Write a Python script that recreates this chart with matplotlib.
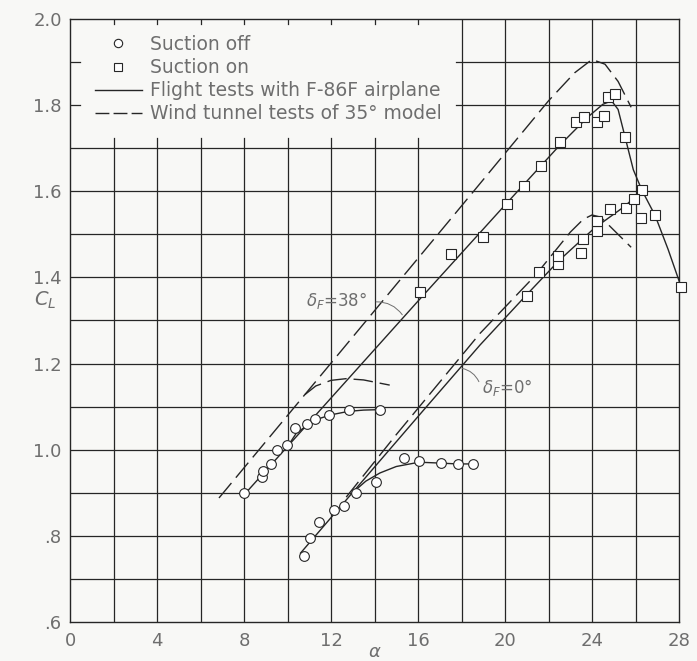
import matplotlib.pyplot as plt
from matplotlib.lines import Line2D

# 升力系数 CL 随迎角 alpha 变化（吸气关/吸气开，两种襟翼角）
# 圆点：吸气关
off_alpha = [8.0, 8.83, 8.87, 9.24, 9.5, 9.98, 10.34, 10.9, 11.26, 11.9, 12.83, 14.25,
             10.76, 11.03, 11.45, 12.14, 12.6, 13.15, 14.07, 15.36, 16.05, 17.06, 17.84, 18.53]
off_cl = [0.899, 0.936, 0.95, 0.967, 1.0, 1.011, 1.05, 1.059, 1.071, 1.08, 1.092, 1.092,
          0.753, 0.795, 0.832, 0.86, 0.869, 0.899, 0.925, 0.98, 0.974, 0.969, 0.967, 0.967]

# 方块：吸气开
on_alpha = [16.09, 17.52, 18.99, 20.09, 20.87, 21.66, 22.53, 23.26, 23.63, 24.23, 24.55, 24.74,
            25.06, 25.52, 26.28, 26.9, 28.1,
            21.01, 21.56, 22.44, 22.44, 23.49, 23.59, 24.25, 24.25, 24.84, 25.55, 25.95, 26.25]
on_cl = [1.366, 1.454, 1.493, 1.570, 1.612, 1.658, 1.714, 1.760, 1.772, 1.760, 1.774, 1.820,
         1.827, 1.725, 1.602, 1.545, 1.377,
         1.356, 1.412, 1.431, 1.449, 1.456, 1.489, 1.508, 1.530, 1.559, 1.562, 1.582, 1.538]

# 飞行试验曲线（实线）
flt38_alpha = [8.0, 12.0, 16.0, 20.0, 22.5, 23.8, 24.5, 24.9, 25.2, 25.5, 25.9, 26.3, 26.9, 27.5, 28.1]
flt38_cl = [0.895, 1.12, 1.345, 1.568, 1.706, 1.772, 1.802, 1.81, 1.79, 1.73, 1.65, 1.602, 1.544, 1.465, 1.378]
flt38off_alpha = [10.0, 10.4, 11.0, 11.5, 12.0, 12.8, 13.5, 14.2]
flt38off_cl = [1.007, 1.038, 1.060, 1.073, 1.081, 1.089, 1.092, 1.093]
flt0_alpha = [10.6, 13.0, 16.0, 18.85, 21.0, 22.5, 24.1, 25.5, 26.3]
flt0_cl = [0.76, 0.901, 1.077, 1.243, 1.36, 1.44, 1.514, 1.565, 1.602]
flt0off_alpha = [13.1, 13.6, 14.25, 15.0, 16.05, 17.0, 17.8, 18.5]
flt0off_cl = [0.905, 0.927, 0.946, 0.961, 0.971, 0.969, 0.967, 0.967]

# 风洞试验曲线（虚线）
wt38_alpha = [6.85, 12.0, 18.0, 22.0, 23.2, 24.0, 24.6, 25.2, 25.8]
wt38_cl = [0.888, 1.201, 1.566, 1.81, 1.875, 1.906, 1.895, 1.855, 1.795]
wt38off_alpha = [10.8, 11.3, 12.0, 12.7, 13.5, 14.7]
wt38off_cl = [1.128, 1.148, 1.161, 1.165, 1.162, 1.15]
wt0_alpha = [12.7, 15.0, 18.85, 21.4, 23.0, 23.6, 24.0, 24.4, 25.0, 25.8]
wt0_cl = [0.89, 1.035, 1.27, 1.405, 1.505, 1.535, 1.545, 1.54, 1.51, 1.47]

x_ticks = [0, 4, 8, 12, 16, 20, 24, 28]
y_ticks = [0.6, 0.8, 1.0, 1.2, 1.4, 1.6, 1.8, 2.0]
y_ticklabels = ['.6', '.8', '1.0', '1.2', '1.4', '1.6', '1.8', '2.0']

INK = '#262626'
GREY = '#6e6e6e'
BG = '#f8f8f6'
DASH = (14, 5)


def drawGrid(ax):
    # 图例区域留白：左上角不画网格，只留短刻度
    for x in range(2, 28, 2):
        if x <= 16:
            ax.plot([x, x], [0.6, 1.723], color=INK, lw=0.9, zorder=1)
            ax.plot([x, x], [1.988, 2.0], color=INK, lw=0.9, zorder=1)
        else:
            ax.plot([x, x], [0.6, 2.0], color=INK, lw=0.9, zorder=1)
    for k in range(1, 14):
        y = 0.6 + 0.1 * k
        if y < 1.75:
            ax.plot([0, 28], [y, y], color=INK, lw=0.9, zorder=1)
        else:
            ax.plot([17.75, 28], [y, y], color=INK, lw=0.9, zorder=1)
            ax.plot([0, 0.45], [y, y], color=INK, lw=0.9, zorder=1)


def main():
    plt.rcParams['font.family'] = 'DejaVu Sans'
    plt.rcParams['font.size'] = 12
    fig = plt.figure(figsize=(6.97, 6.61), dpi=100, facecolor=BG)
    ax = fig.add_axes([70 / 697, 39 / 661, 609 / 697, 603 / 661], facecolor=BG)
    ax.set_xlim(0, 28)
    ax.set_ylim(0.6, 2.0)
    drawGrid(ax)

    # 曲线
    ax.plot(flt38_alpha, flt38_cl, color=INK, lw=1.0, zorder=3)
    ax.plot(flt38off_alpha, flt38off_cl, color=INK, lw=1.0, zorder=3)
    ax.plot(flt0_alpha, flt0_cl, color=INK, lw=1.0, zorder=3)
    ax.plot(flt0off_alpha, flt0off_cl, color=INK, lw=1.0, zorder=3)
    for a, c in [(wt38_alpha, wt38_cl), (wt38off_alpha, wt38off_cl), (wt0_alpha, wt0_cl)]:
        ax.plot(a, c, color=INK, lw=1.0, dashes=DASH, zorder=3)

    # 试验点
    ax.plot(off_alpha, off_cl, 'o', ms=7, mfc='white', mec=INK, mew=0.8, zorder=4, clip_on=False)
    ax.plot(on_alpha, on_cl, 's', ms=7, mfc='white', mec=INK, mew=0.8, zorder=4, clip_on=False)

    # 襟翼角标注
    ax.text(10.85, 1.347, r'$\delta_F$=38°', color=GREY, fontsize=12, va='center', zorder=5)
    ax.annotate('', xy=(15.35, 1.308), xytext=(13.95, 1.343),
                arrowprops=dict(arrowstyle='-', color=GREY, lw=0.7,
                                connectionstyle='arc3,rad=-0.3'), zorder=5)
    ax.text(18.95, 1.144, r'$\delta_F$=0°', color=GREY, fontsize=12, va='center', zorder=5)
    ax.annotate('', xy=(17.9, 1.19), xytext=(18.85, 1.152),
                arrowprops=dict(arrowstyle='-', color=GREY, lw=0.7,
                                connectionstyle='arc3,rad=0.3'), zorder=5)

    # 坐标轴
    ax.set_xticks(x_ticks)
    ax.set_yticks(y_ticks)
    ax.set_yticklabels(y_ticklabels)
    ax.tick_params(length=0, labelcolor=GREY, labelsize=13)
    ax.tick_params(axis='x', pad=7)
    ax.tick_params(axis='y', pad=6)
    for s in ax.spines.values():
        s.set_color(INK)
        s.set_linewidth(1.0)
    fig.text(45 / 697, 1 - 300 / 661, r'$C_L$', color=GREY, fontsize=14, ha='center', va='center')
    fig.text(375 / 697, 1 - 652 / 661, r'$\alpha$', color=GREY, fontsize=13, ha='center', va='center')

    # 图例
    handles = [Line2D([], [], ls='none', marker='o', ms=6, mfc='white', mec=INK, mew=0.8),
               Line2D([], [], ls='none', marker='s', ms=6, mfc='white', mec=INK, mew=0.8),
               Line2D([], [], color=INK, lw=1.0),
               Line2D([], [], color=INK, lw=1.0, dashes=(10, 3))]
    labels = ['Suction off', 'Suction on', 'Flight tests with F-86F airplane',
              'Wind tunnel tests of 35° model']
    leg = ax.legend(handles, labels, loc='upper left', bbox_to_anchor=(95 / 697, 1 - 35 / 661),
                    bbox_transform=fig.transFigure, frameon=False, borderpad=0,
                    borderaxespad=0, handlelength=2.5, handletextpad=0.45, labelspacing=0.22,
                    fontsize=13.5)
    for t in leg.get_texts():
        t.set_color(GREY)

    plt.savefig('out.png', dpi=100, facecolor=BG)


if __name__ == '__main__':
    main()
